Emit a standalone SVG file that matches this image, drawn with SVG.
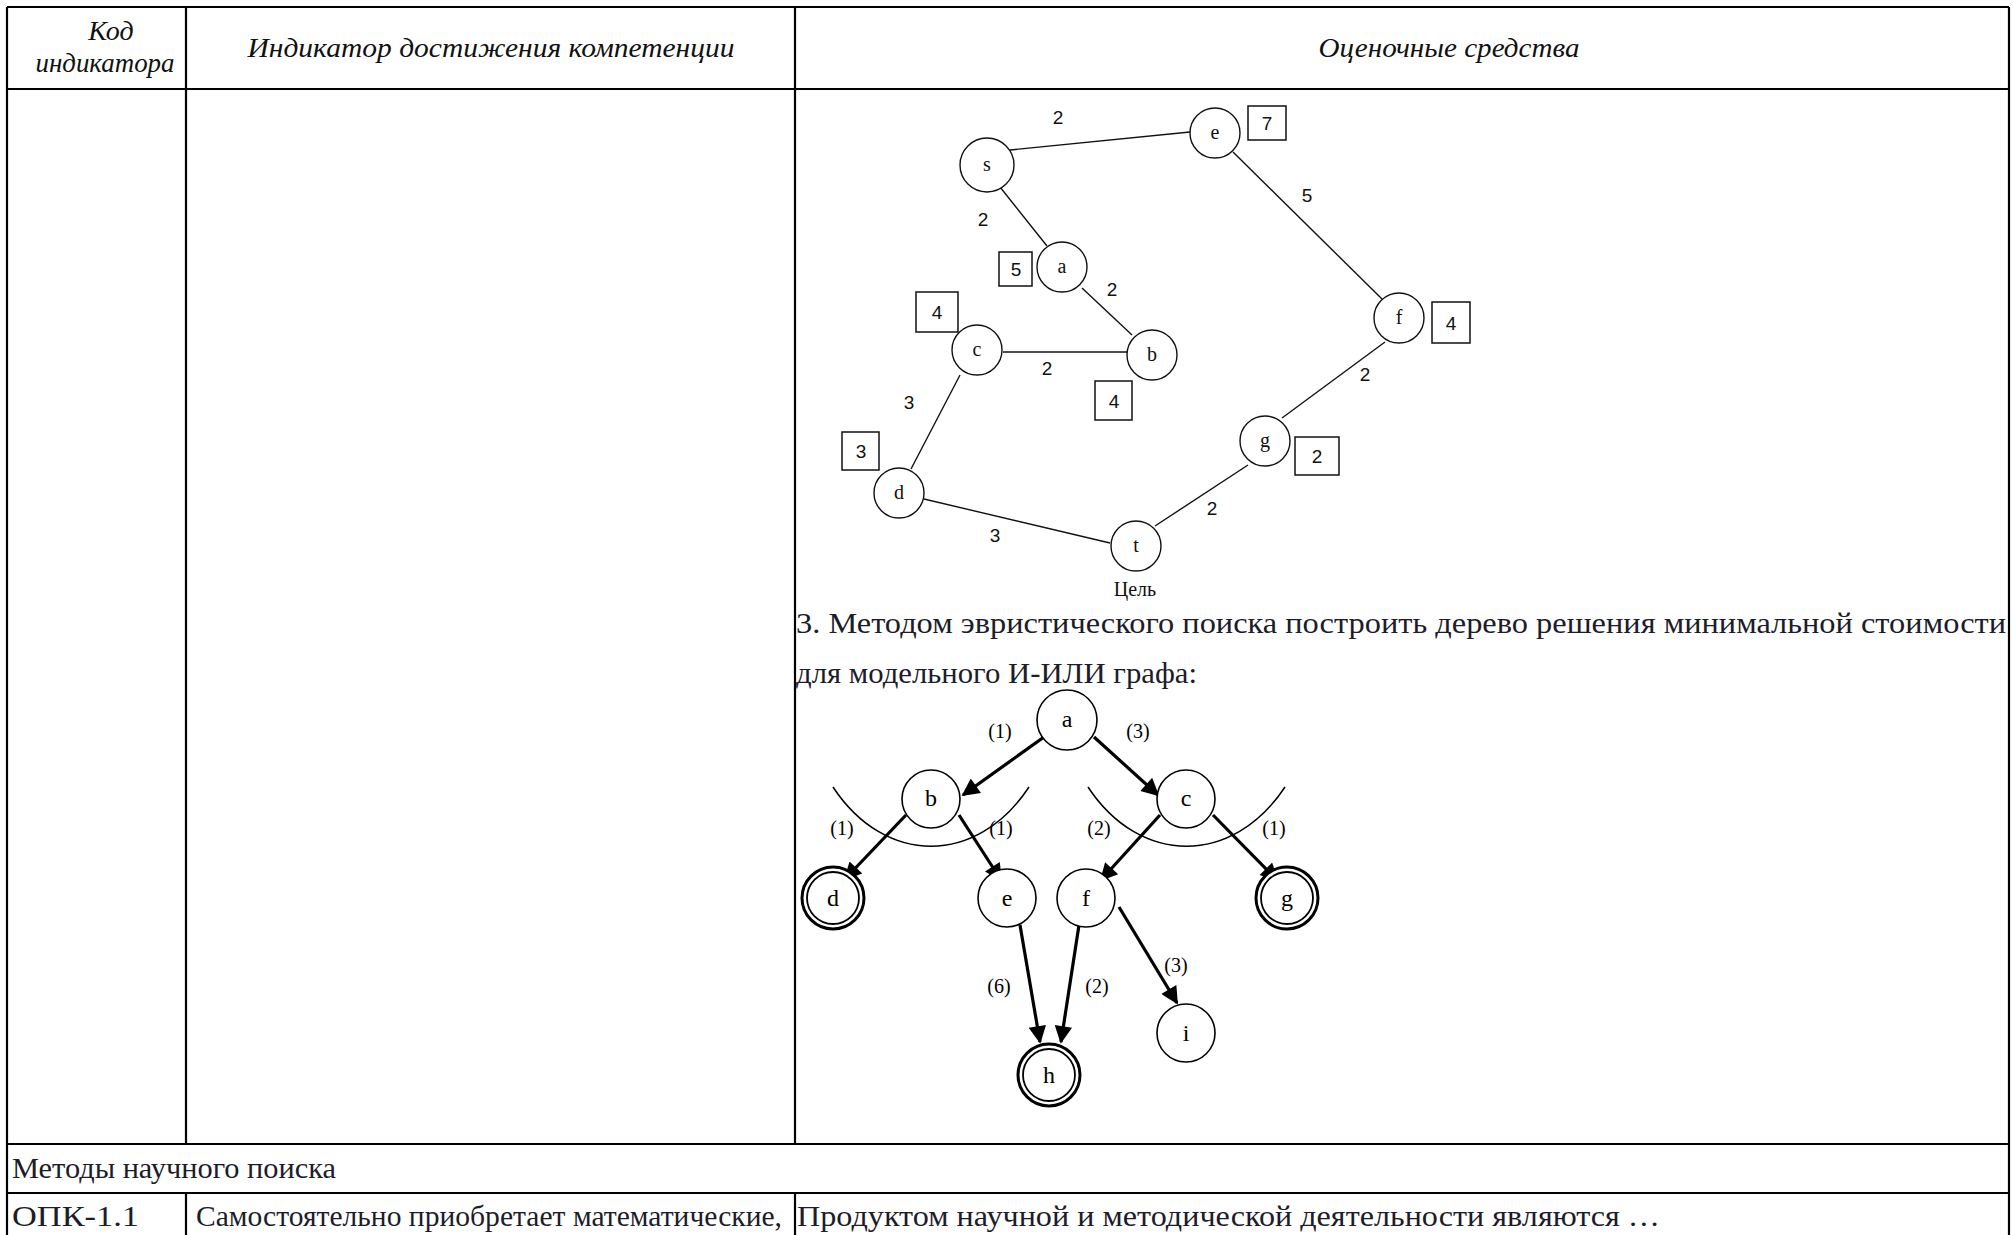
<svg xmlns="http://www.w3.org/2000/svg" width="2013" height="1235" viewBox="0 0 2013 1235">
<defs>
<style>
.grid{stroke:#000;stroke-width:2.2;fill:none}
.hdr{font-family:"Liberation Serif",serif;font-style:italic;font-size:28px;fill:#111;text-anchor:middle}
.body{font-family:"Liberation Serif",serif;font-size:29px;fill:#1c1c2a}
.e1{stroke:#111;stroke-width:1.4;fill:none}
.n1{stroke:#111;stroke-width:1.4;fill:#fff}
.bx{stroke:#111;stroke-width:1.5;fill:#fff}
.l1{font-family:"Liberation Serif",serif;font-size:20px;fill:#111;text-anchor:middle}
.d1{font-family:"Liberation Sans",sans-serif;font-size:19px;fill:#111;text-anchor:middle}
.n2{stroke:#000;stroke-width:1.6;fill:#fff}
.dbo{stroke:#000;stroke-width:3;fill:#fff}
.dbi{stroke:#000;stroke-width:1.8;fill:none}
.l2{font-family:"Liberation Serif",serif;font-size:24px;fill:#000;text-anchor:middle}
.w2{font-family:"Liberation Serif",serif;font-size:20px;fill:#000;text-anchor:middle}
.ar{stroke:#000;stroke-width:3.2;fill:none;marker-end:url(#ah)}
.arc{stroke:#000;stroke-width:1.5;fill:none}
</style>
<marker id="ah" viewBox="0 0 10 10" refX="9" refY="5" markerWidth="7" markerHeight="5.5" markerUnits="strokeWidth" orient="auto">
<path d="M0,0 L10,5 L0,10 z" fill="#000"/>
</marker>
</defs>
<rect x="0" y="0" width="2013" height="1235" fill="#fff"/>

<g id="table">
<line class="grid" x1="7" y1="7" x2="2009" y2="7"/>
<line class="grid" x1="7" y1="89" x2="2009" y2="89"/>
<line class="grid" x1="7" y1="1144" x2="2009" y2="1144"/>
<line class="grid" x1="7" y1="1193" x2="2009" y2="1193"/>
<line class="grid" x1="7" y1="7" x2="7" y2="1235"/>
<line class="grid" x1="2009" y1="7" x2="2009" y2="1235"/>
<line class="grid" x1="186" y1="7" x2="186" y2="1144"/>
<line class="grid" x1="795" y1="7" x2="795" y2="1144"/>
<line class="grid" x1="186" y1="1193" x2="186" y2="1235"/>
<line class="grid" x1="795" y1="1193" x2="795" y2="1235"/>
<text class="hdr" x="111" y="40">Код</text>
<text class="hdr" x="105" y="72" textLength="139" lengthAdjust="spacingAndGlyphs">индикатора</text>
<text class="hdr" x="491" y="57" textLength="487" lengthAdjust="spacingAndGlyphs">Индикатор достижения компетенции</text>
<text class="hdr" x="1449" y="57" textLength="261" lengthAdjust="spacingAndGlyphs">Оценочные средства</text>
<text class="body" x="12" y="1178" textLength="324" lengthAdjust="spacingAndGlyphs">Методы научного поиска</text>
<text class="body" x="12" y="1226" textLength="127" lengthAdjust="spacingAndGlyphs">ОПК-1.1</text>
<text class="body" x="196" y="1226" textLength="586" lengthAdjust="spacingAndGlyphs">Самостоятельно приобретает математические,</text>
<text class="body" x="797" y="1226" textLength="863" lengthAdjust="spacingAndGlyphs">Продуктом научной и методической деятельности являются …</text>
<text class="body" x="796" y="633" textLength="1210" lengthAdjust="spacingAndGlyphs">3. Методом эвристического поиска построить дерево решения минимальной стоимости</text>
<text class="body" x="796" y="683" textLength="401" lengthAdjust="spacingAndGlyphs">для модельного И-ИЛИ графа:</text>
</g>

<g id="graph1-edges">
<line class="e1" x1="1010" y1="150" x2="1190" y2="132"/>
<line class="e1" x1="1000" y1="187" x2="1047" y2="246"/>
<line class="e1" x1="1082" y1="288" x2="1132" y2="335"/>
<line class="e1" x1="1003" y1="352" x2="1127" y2="352"/>
<line class="e1" x1="960" y1="375" x2="911" y2="469"/>
<line class="e1" x1="924" y1="499" x2="1110" y2="543"/>
<line class="e1" x1="1233" y1="152" x2="1382" y2="299"/>
<line class="e1" x1="1385" y1="342" x2="1282" y2="418"/>
<line class="e1" x1="1248" y1="465" x2="1155" y2="526"/>
<text class="d1" x="1058" y="124">2</text>
<text class="d1" x="983" y="226">2</text>
<text class="d1" x="1112" y="296">2</text>
<text class="d1" x="1047" y="375">2</text>
<text class="d1" x="909" y="409">3</text>
<text class="d1" x="995" y="542">3</text>
<text class="d1" x="1307" y="202">5</text>
<text class="d1" x="1365" y="381">2</text>
<text class="d1" x="1212" y="515">2</text>
</g>

<g id="g1-s"><circle class="n1" cx="987" cy="165" r="27"/><text class="l1" x="987" y="171">s</text></g>
<g id="g1-e"><circle class="n1" cx="1215" cy="133" r="25"/><text class="l1" x="1215" y="139">e</text><rect class="bx" x="1248" y="106" width="38" height="34"/><text class="d1" x="1267" y="130">7</text></g>
<g id="g1-a"><circle class="n1" cx="1062" cy="267" r="25"/><text class="l1" x="1062" y="273">a</text><rect class="bx" x="999" y="252" width="33" height="34"/><text class="d1" x="1016" y="276">5</text></g>
<g id="g1-b"><circle class="n1" cx="1152" cy="355" r="25"/><text class="l1" x="1152" y="361">b</text><rect class="bx" x="1095" y="381" width="37" height="39"/><text class="d1" x="1114" y="408">4</text></g>
<g id="g1-c"><circle class="n1" cx="977" cy="350" r="25"/><text class="l1" x="977" y="356">c</text><rect class="bx" x="916" y="292" width="42" height="40"/><text class="d1" x="937" y="319">4</text></g>
<g id="g1-d"><circle class="n1" cx="899" cy="493" r="25"/><text class="l1" x="899" y="499">d</text><rect class="bx" x="842" y="432" width="37" height="38"/><text class="d1" x="861" y="458">3</text></g>
<g id="g1-t"><circle class="n1" cx="1136" cy="546" r="25"/><text class="l1" x="1136" y="552">t</text><text class="l1" x="1135" y="596">Цель</text></g>
<g id="g1-f"><circle class="n1" cx="1399" cy="318" r="25"/><text class="l1" x="1399" y="324">f</text><rect class="bx" x="1432" y="302" width="38" height="41"/><text class="d1" x="1451" y="330">4</text></g>
<g id="g1-g"><circle class="n1" cx="1265" cy="441" r="25"/><text class="l1" x="1265" y="447">g</text><rect class="bx" x="1295" y="437" width="44" height="38"/><text class="d1" x="1317" y="463">2</text></g>

<g id="graph2-connectors">
<path class="arc" d="M833,787 C885,866 977,866 1029,787"/>
<path class="arc" d="M1088,787 C1140,866 1233,866 1285,787"/>
<line class="ar" x1="1044" y1="737" x2="963" y2="795"/>
<line class="ar" x1="1094" y1="737" x2="1158" y2="795"/>
<line class="ar" x1="906" y1="815" x2="845" y2="879"/>
<line class="ar" x1="959" y1="815" x2="1001" y2="880"/>
<line class="ar" x1="1160" y1="815" x2="1101" y2="880"/>
<line class="ar" x1="1213" y1="815" x2="1277" y2="880"/>
<line class="ar" x1="1020" y1="925" x2="1040" y2="1042"/>
<line class="ar" x1="1079" y1="925" x2="1061" y2="1042"/>
<line class="ar" x1="1119" y1="907" x2="1177" y2="1003"/>
<text class="w2" x="1000" y="738">(1)</text>
<text class="w2" x="1138" y="738">(3)</text>
<text class="w2" x="842" y="835">(1)</text>
<text class="w2" x="1001" y="835">(1)</text>
<text class="w2" x="1099" y="835">(2)</text>
<text class="w2" x="1274" y="835">(1)</text>
<text class="w2" x="999" y="993">(6)</text>
<text class="w2" x="1097" y="993">(2)</text>
<text class="w2" x="1176" y="972">(3)</text>
</g>

<g id="g2-a"><circle class="n2" cx="1067" cy="720" r="30"/><text class="l2" x="1067" y="727">a</text></g>
<g id="g2-b"><circle class="n2" cx="931" cy="799" r="29"/><text class="l2" x="931" y="806">b</text></g>
<g id="g2-c"><circle class="n2" cx="1186" cy="799" r="29"/><text class="l2" x="1186" y="806">c</text></g>
<g id="g2-d"><circle class="dbo" cx="833" cy="898" r="31"/><circle class="dbi" cx="833" cy="898" r="26"/><text class="l2" x="833" y="906">d</text></g>
<g id="g2-e"><circle class="n2" cx="1007" cy="898" r="29"/><text class="l2" x="1007" y="906">e</text></g>
<g id="g2-f"><circle class="n2" cx="1086" cy="898" r="29"/><text class="l2" x="1086" y="906">f</text></g>
<g id="g2-g"><circle class="dbo" cx="1287" cy="898" r="31"/><circle class="dbi" cx="1287" cy="898" r="26"/><text class="l2" x="1287" y="906">g</text></g>
<g id="g2-h"><circle class="dbo" cx="1049" cy="1075" r="31"/><circle class="dbi" cx="1049" cy="1075" r="26"/><text class="l2" x="1049" y="1083">h</text></g>
<g id="g2-i"><circle class="n2" cx="1186" cy="1033" r="29"/><text class="l2" x="1186" y="1041">i</text></g>
</svg>
